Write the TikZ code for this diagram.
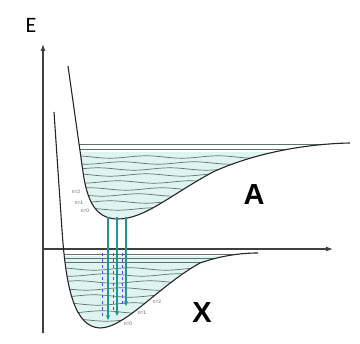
\documentclass[tikz,border=0pt]{standalone}
\usepackage{fontspec}
\setmainfont{Liberation Sans}
\newfontfamily\efont{Carlito}
\usetikzlibrary{arrows.meta}
\definecolor{wavecol}{RGB}{95,115,105}
\definecolor{teal2}{RGB}{30,150,150}
\definecolor{wellfill}{RGB}{222,244,240}
\tikzset{
  axis/.style={draw=black!75, line width=1.1pt, -{Latex[length=7pt,width=5pt]}},
  curve/.style={draw=black!85, line width=1.1pt},
  level/.style={draw=wavecol, line width=0.7pt},
  trans/.style={draw=teal2, line width=1.8pt, -{Stealth[length=5pt,width=4.5pt]}},
  emis/.style={draw=blue!70, line width=0.6pt, dashed},
  nlab/.style={font=\fontsize{5}{5}\selectfont, text=black!60, inner sep=0pt},
  big/.style={font=\fontsize{29}{29}\selectfont\bfseries, inner sep=0pt}
}
\def\Acurve{(68,66) -- (83,172) .. controls (87,200) and (95,219) .. (118,219) .. controls (145,219) and (170,195) .. (213,172) .. controls (250,155) and (300,144) .. (350,143)}
\def\Xcurve{(54,112) -- (62,230) .. controls (66,290) and (75,327) .. (100,328) .. controls (125,328) and (160,285) .. (200,263) .. controls (220,256) and (240,253) .. (258,253)}
\begin{document}
\begin{tikzpicture}[x=1pt,y=-1pt]
\useasboundingbox (0,0) rectangle (360,344);
% upper well interior
\begin{scope}
  \clip \Acurve -- (350,100) -- (68,100) -- cycle;
  \fill[wellfill] (60,152) rectangle (350,225);
  \draw[level] (60,144) -- (350,144);
  \draw[level] (60,149) -- (350,149);
  \foreach \y in {157,163,169,175,182,189,195,202,209}
    \draw[level] plot[domain=60:350, samples=90] (\x, {\y + 1.2*sin(\x*5+\y*20)});
\end{scope}
% lower well interior
\begin{scope}
  \clip \Xcurve -- (258,100) -- (54,100) -- cycle;
  \fill[wellfill] (50,256) rectangle (260,335);
  \foreach \y in {254,258,262}
    \draw[level] (50,\y) -- (260,\y);
  \foreach \y in {269,275,282,289,296,304,312,320}
    \draw[level] plot[domain=50:260, samples=80] (\x, {\y + 1.2*sin(\x*5+\y*20)});
\end{scope}
% axes
\coordinate (o) at (43,333);
\coordinate (ytop) at (43,44);
\coordinate (xl) at (42,249);
\coordinate (xr) at (333,249);
\draw[axis] (o) -- (ytop);
\draw[axis] (xl) -- (xr);
% potential curves
\draw[curve] \Acurve;
\draw[curve] \Xcurve;
% emission (dashed blue)
\foreach \xx/\yb in {102/318,113/312,122/304}{
  \coordinate (e1\xx) at (\xx,253);
  \coordinate (e2\xx) at (\xx,\yb);
  \draw[emis] (e1\xx) -- (e2\xx);
}
% transitions
\coordinate (t1a) at (108,217); \coordinate (t1b) at (108,320);
\coordinate (t2a) at (117,217); \coordinate (t2b) at (117,316);
\coordinate (t3a) at (126,217); \coordinate (t3b) at (126,306);
\draw[trans] (t1a) -- (t1b);
\draw[trans] (t2a) -- (t2b);
\draw[trans] (t3a) -- (t3b);
% labels
\node[font=\efont\fontsize{22}{22}\selectfont, inner sep=0pt] (E) at (31,25) {E};
\node[big] (A) at (254,195) {A};
\node[big] (X) at (202,313) {X};
\node[nlab] (a2) at (76,192) {n=2};
\node[nlab] (a1) at (79,203) {n=1};
\node[nlab] (a0) at (85,211) {n=0};
\node[nlab] (x2) at (157,302) {n=2};
\node[nlab] (x1) at (142,313) {n=1};
\node[nlab] (x0) at (128,324) {n=0};
\end{tikzpicture}
\end{document}
